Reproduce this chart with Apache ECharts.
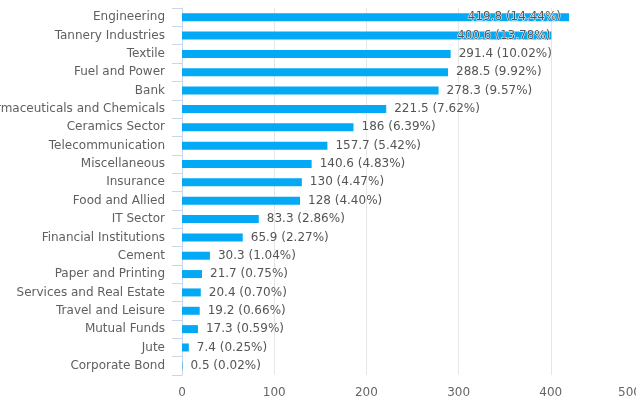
<!DOCTYPE html>
<html>
<head>
<meta charset="utf-8">
<script src="https://cdn.jsdelivr.net/npm/echarts@6/dist/echarts.min.js"></script>
<style>html,body{margin:0;padding:0;background:#fff;}#c{width:636px;height:398px;}</style>
</head>
<body>
<div id="c"></div>
<script>
var categories = ["Engineering","Tannery Industries","Textile","Fuel and Power","Bank","Pharmaceuticals and Chemicals","Ceramics Sector","Telecommunication","Miscellaneous","Insurance","Food and Allied","IT Sector","Financial Institutions","Cement","Paper and Printing","Services and Real Estate","Travel and Leisure","Mutual Funds","Jute","Corporate Bond"];
var values = [419.8,400.6,291.4,288.5,278.3,221.5,186,157.7,140.6,130,128,83.3,65.9,30.3,21.7,20.4,19.2,17.3,7.4,0.5];
var percents = ["14.44","13.78","10.02","9.92","9.57","7.62","6.39","5.42","4.83","4.47","4.40","2.86","2.27","1.04","0.75","0.70","0.66","0.59","0.25","0.02"];
var xTicks = [0,100,200,300,400,500];

var font = "DejaVu Sans";
var seriesData = values.map(function(v, i){
  var d = {value: v};
  if (i === 0) d.label = {position: 'insideRight', distance: 8};
  if (i === 1) d.label = {position: 'insideRight', distance: 1};
  return d;
});

var chart = echarts.init(document.getElementById('c'), null, {renderer: 'canvas'});
chart.setOption({
  animation: false,
  grid: {left: 182, right: -7, top: 8, bottom: 23, containLabel: false, outerBoundsMode: 'none'},
  xAxis: {
    type: 'value',
    min: xTicks[0], max: xTicks[xTicks.length-1], interval: 100,
    axisLine: {show: false},
    axisTick: {show: false},
    splitLine: {lineStyle: {color: '#e6e6e6', width: 1}},
    axisLabel: {
      color: '#666', fontFamily: font, fontSize: 12, margin: 12,
      showMaxLabel: true, hideOverlap: false,
      formatter: function(v){ return v === 500 ? '{m|500}' : String(v); },
      rich: {m: {color: '#666', fontFamily: font, fontSize: 12, padding: [0, 27, 0, 0]}}
    }
  },
  yAxis: {
    type: 'category',
    inverse: true,
    data: categories,
    axisLine: {show: true, lineStyle: {color: '#ccd6eb'}},
    axisTick: {show: true, length: 10, lineStyle: {color: '#ccd6eb'}},
    axisLabel: {color: '#606060', fontFamily: font, fontSize: 12, margin: 17, hideOverlap: false}
  },
  series: [{
    type: 'bar',
    data: seriesData,
    barWidth: 8,
    itemStyle: {color: '#03a9f4'},
    label: {
      show: true,
      position: 'right',
      distance: 8,
      color: '#555',
      fontFamily: font,
      fontSize: 12,
      textBorderColor: '#fff',
      textBorderWidth: 1,
      formatter: function(p){ return p.value + ' (' + percents[p.dataIndex] + '%)'; }
    }
  }]
});
</script>
</body>
</html>
